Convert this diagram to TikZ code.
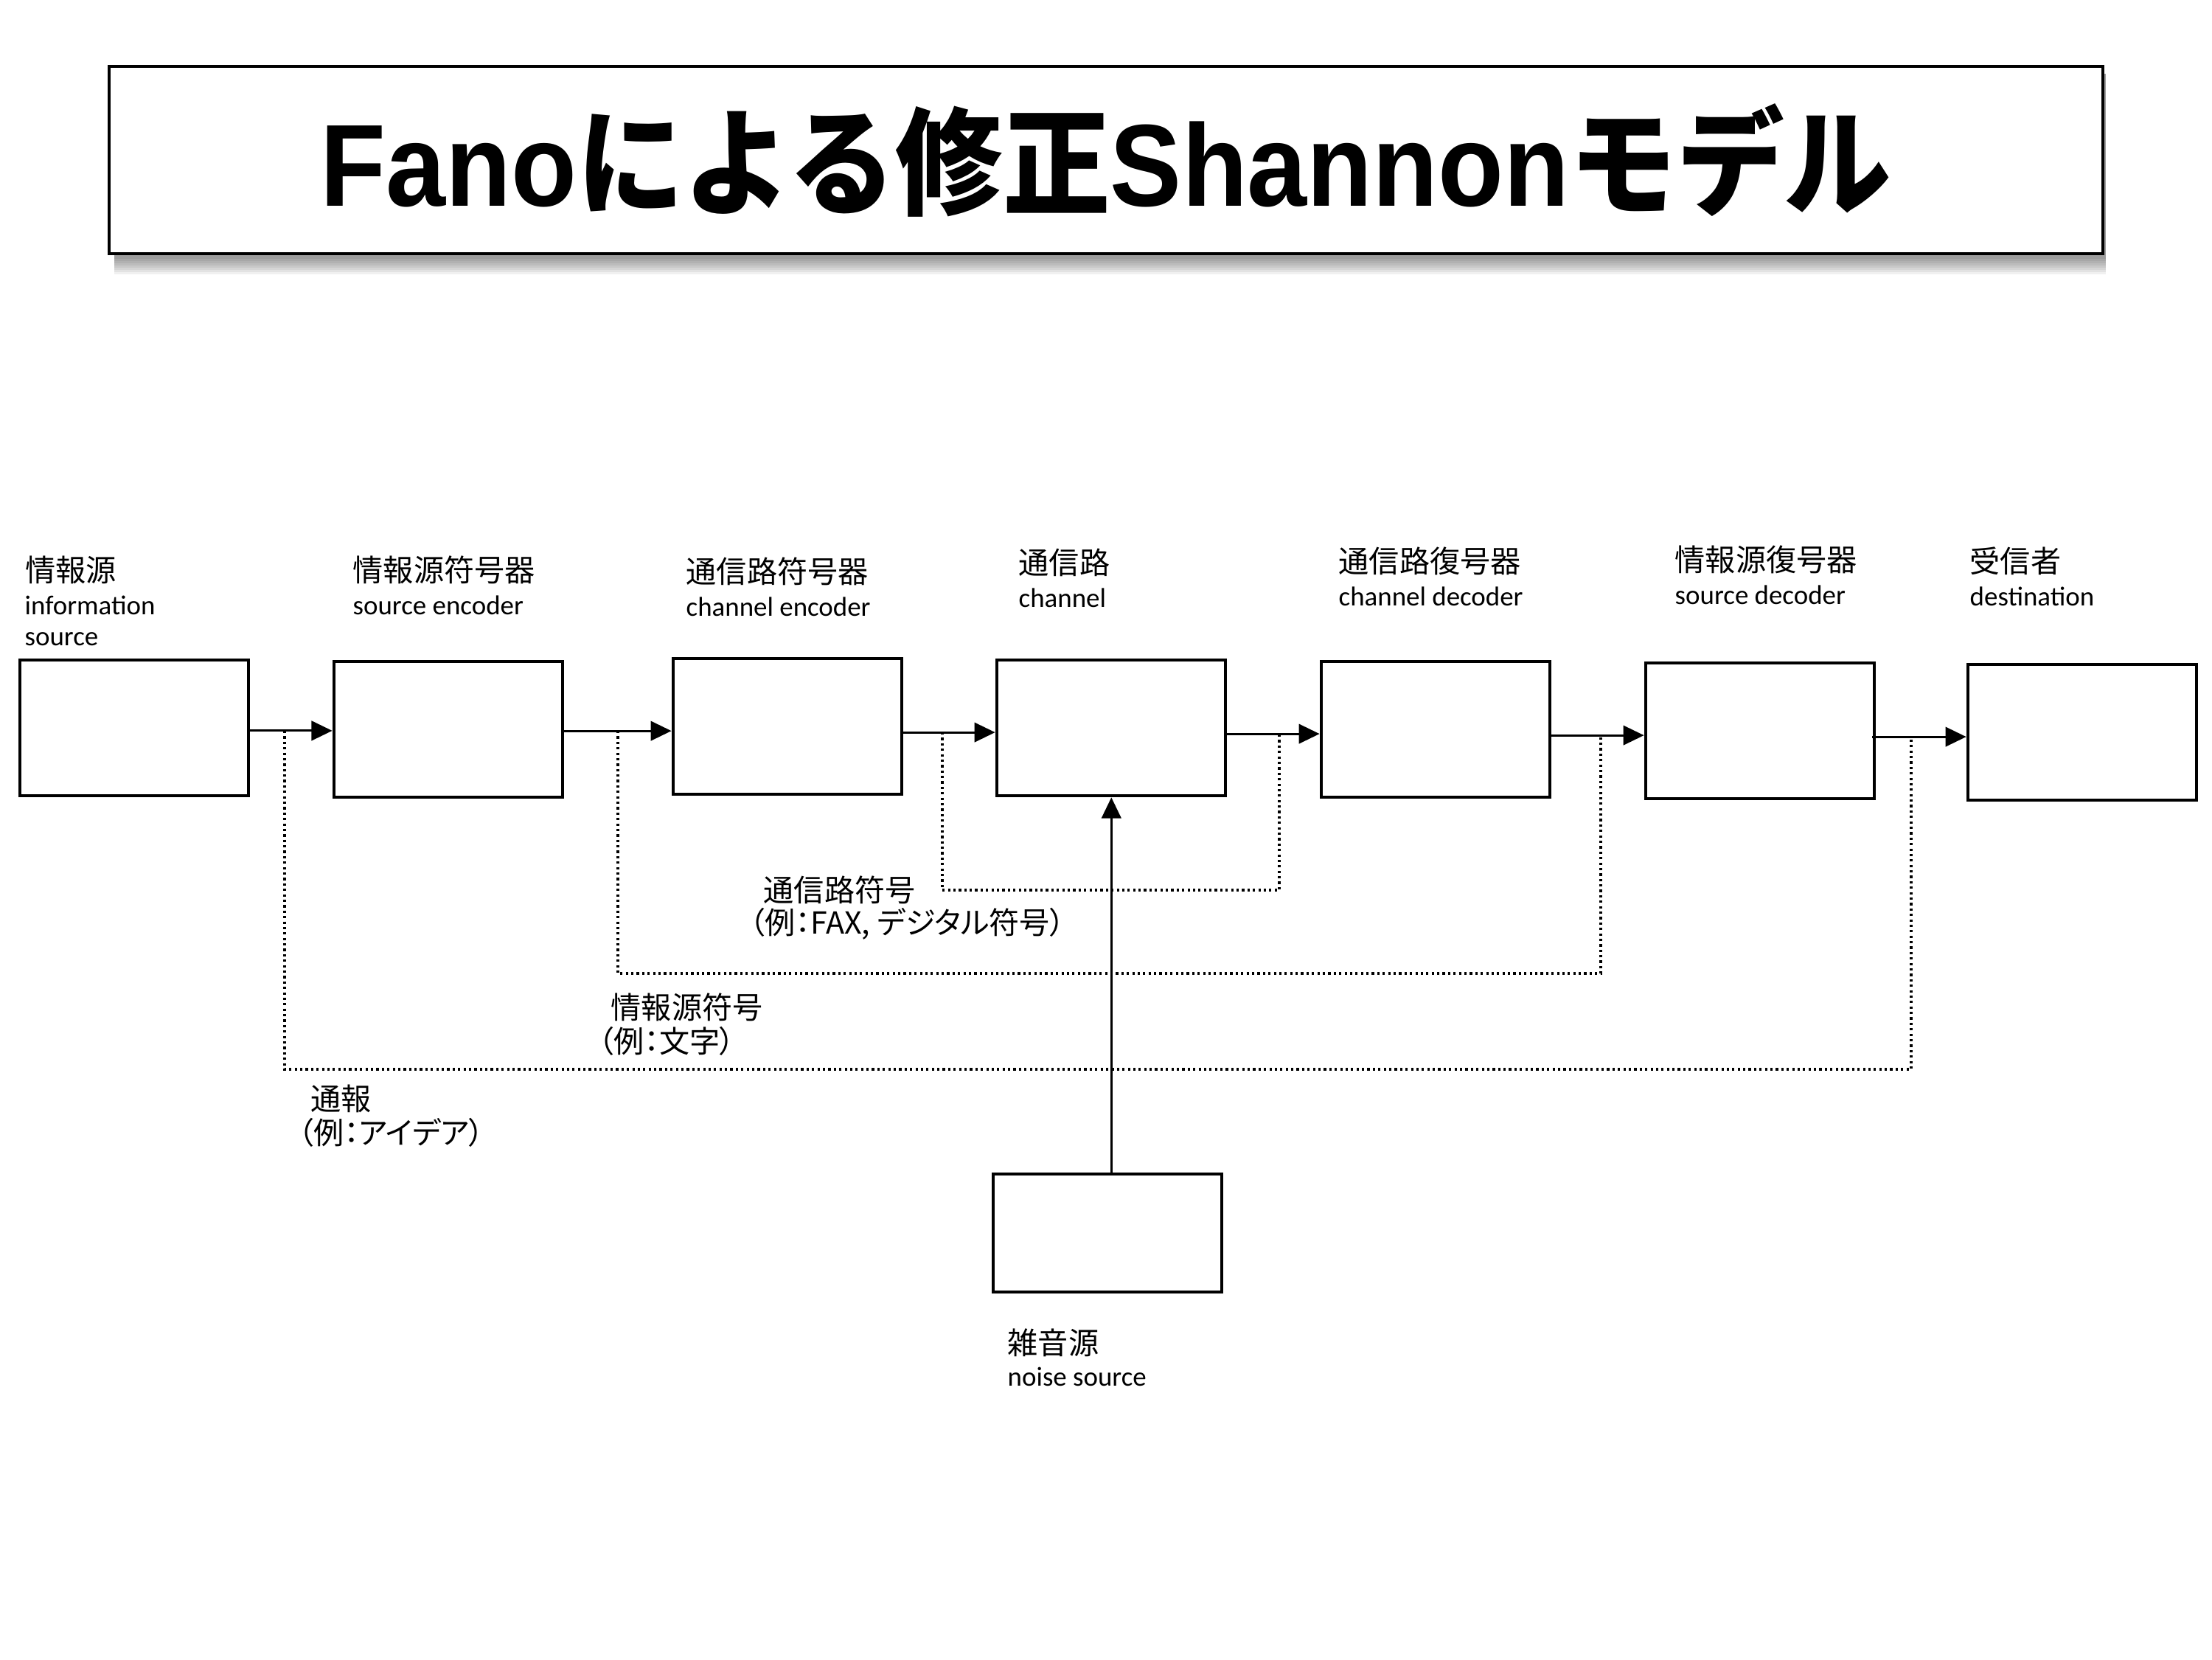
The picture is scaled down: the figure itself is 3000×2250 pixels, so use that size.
\documentclass[tikz,border=0pt]{standalone}
\usepackage{fontspec}
\setmainfont{Carlito}
\newfontfamily\jp{Noto Sans CJK JP}
\newfontfamily\jpp[RawFeature=+palt]{Noto Sans CJK JP}
\newfontfamily\titlelat{Liberation Sans}
\usetikzlibrary{arrows.meta}
\begin{document}
\begin{tikzpicture}[x=0.01cm,y=-0.01cm,
  blk/.style={draw, line width=1.3pt, minimum width=3.1cm, minimum height=1.84cm, inner sep=0},
  flow/.style={line width=0.9pt, -{Triangle[length=8pt,width=7.5pt]}},
  code/.style={line width=0.9pt, dash pattern=on 0.9pt off 1.2pt},
  jlab/.style={anchor=west, inner sep=0, font=\jp\fontsize{11.7}{14}\selectfont},
  plab/.style={anchor=west, inner sep=0, font=\jpp\fontsize{11.7}{14}\selectfont},
  elab/.style={anchor=west, inner sep=0, font=\fontsize{10.5}{13}\selectfont}]
\useasboundingbox (0,0) rectangle (3000,2250);
% title shadow
\foreach \k in {1,...,8}
  \fill[black, opacity=0.06] (155,100) rectangle (2856,348+3*\k);
% title
\node[draw, line width=1pt, fill=white, minimum width=27.02cm, minimum height=2.54cm, inner sep=0] (title) at (1500,217)
  {\scalebox{0.92}[1]{\fontsize{45}{50}\selectfont\bfseries\titlelat Fano{\jp\bfseries による修正}Shannon{\jp\bfseries モデル}}};
% blocks
\node[blk] (src) at (182,987) {};
\node[blk] (senc) at (608,989) {};
\node[blk] (cenc) at (1068,985) {};
\node[blk] (chan) at (1507,987) {};
\node[blk] (cdec) at (1947,989) {};
\node[blk] (sdec) at (2387,991) {};
\node[blk] (dest) at (2824,993) {};
\node[blk, minimum height=1.6cm] (noise) at (1502,1672) {};
% flow arrows
\draw[flow] ([yshift=-1.1pt]src.east) -- ([yshift=-1.1pt]src.east -| senc.west);
\draw[flow] ([yshift=-0.6pt]senc.east) -- ([yshift=-0.6pt]senc.east -| cenc.west);
\draw[flow] ([yshift=-2.3pt]cenc.east) -- ([yshift=-2.3pt]cenc.east -| chan.west);
\draw[flow] ([yshift=-2.3pt]chan.east) -- ([yshift=-2.3pt]chan.east -| cdec.west);
\draw[flow] ([yshift=-2.3pt]cdec.east) -- ([yshift=-2.3pt]cdec.east -| sdec.west);
\draw[flow] ([xshift=-1.5pt,yshift=-2.3pt]sdec.east) -- ([yshift=-2.3pt]sdec.east -| dest.west);
\draw[flow, line width=0.8pt] ([xshift=1.5pt]noise.north) -- ([xshift=1.5pt]noise.north |- chan.south);
% dotted code loops
\coordinate (oA) at (386,991);
\coordinate (oL) at (386,1450);
\coordinate (oB) at (2592,999);
\coordinate (mA) at (838,991);
\coordinate (mL) at (838,1320);
\coordinate (mB) at (2171,997);
\coordinate (iA) at (1278,993);
\coordinate (iL) at (1278,1207);
\coordinate (iB) at (1735,995);
\draw[code] (oA) -- (oL) -| (oB);
\draw[code] (mA) -- (mL) -| (mB);
\draw[code] (iA) -- (iL) -| (iB);
% labels
\node[jlab] (t1a) at (34,773) {情報源};
\node[elab] (t1b) at (33,821) {information};
\node[elab] (t1c) at (33,867) {source};
\node[jlab] (t2a) at (478,773) {情報源符号器};
\node[elab] (t2b) at (478,821) {source encoder};
\node[jlab] (t3a) at (930,775) {通信路符号器};
\node[elab] (t3b) at (930,823) {channel encoder};
\node[jlab] (t4a) at (1381,763) {通信路};
\node[elab] (t4b) at (1381,811) {channel};
\node[jlab] (t5a) at (1815,761) {通信路復号器};
\node[elab] (t5b) at (1815,809) {channel decoder};
\node[jlab] (t6a) at (2271,759) {情報源復号器};
\node[elab] (t6b) at (2271,807) {source decoder};
\node[jlab] (t7a) at (2671,761) {受信者};
\node[elab] (t7b) at (2671,809) {destination};
\node[jlab] (c1a) at (1035,1207) {通信路符号};
\node[plab] (c1b) at (1016,1253) {（例：FAX, デジタル符号）};
\node[jlab] (c2a) at (828,1366) {情報源符号};
\node[plab] (c2b) at (811,1412) {（例：文字）};
\node[jlab] (c3a) at (421,1490) {通報};
\node[plab] (c3b) at (404,1536) {（例：アイデア）};
\node[jlab] (n1a) at (1366,1821) {雑音源};
\node[elab] (n1b) at (1366,1867) {noise source};
\end{tikzpicture}
\end{document}
